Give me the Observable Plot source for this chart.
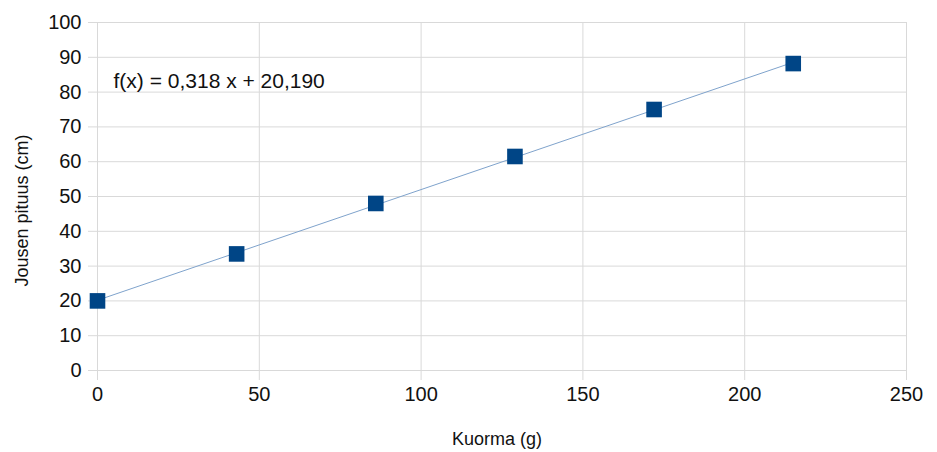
<!DOCTYPE html>
<html><head><meta charset="utf-8">
<script src="https://cdn.jsdelivr.net/npm/d3@7"></script>
<script src="https://cdn.jsdelivr.net/npm/@observablehq/plot@0.6"></script>
<style>body{margin:0;background:#fff;font-family:"Liberation Sans",Arial,sans-serif;}</style>
</head><body><div id="chart"></div>
<script>
const loads = [0, 43, 86, 129, 172, 215];
const lengths = [20, 33.5, 48, 61.5, 75, 88.2];
const slope = 0.318, intercept = 20.19;
const xTicks = [0, 50, 100, 150, 200, 250];
const yTicks = [0, 10, 20, 30, 40, 50, 60, 70, 80, 90, 100];
const eqLabel = "f(x) = 0,318 x + 20,190";
const xTitle = "Kuorma (g)";
const yTitle = "Jousen pituus (cm)";

const pts = loads.map((x, i) => ({x, y: lengths[i]}));
const trendX = [loads[0], loads[loads.length - 1]];
const trend = trendX.map(x => ({x, y: slope * x + intercept}));

const chart = Plot.plot({
  width: 937, height: 452,
  marginLeft: 97, marginRight: 31, marginTop: 22, marginBottom: 82,
  style: {fontFamily: '"Liberation Sans", Arial, sans-serif', background: "#fff"},
  x: {domain: [0, 250]},
  y: {domain: [0, 100]},
  marks: [
    Plot.gridX(xTicks, {stroke: "#d9d9d9", strokeOpacity: 1}),
    Plot.gridY(yTicks, {stroke: "#d9d9d9", strokeOpacity: 1}),
    Plot.axisX(xTicks, {tickSize: 10, stroke: "#d9d9d9", fill: "#111", fontSize: 20, tickPadding: 6, label: null, tickFormat: d => d}),
    Plot.axisY(yTicks, {tickSize: 9, stroke: "#d9d9d9", fill: "#111", fontSize: 20, tickPadding: 7, label: null, tickFormat: d => d}),
    Plot.line(trend, {x: "x", y: "y", stroke: "#7fa3cc", strokeWidth: 1}),
    Plot.dot(pts, {x: "x", y: "y", symbol: "square", r: 8.8, fill: "#004586", stroke: "none"}),
    Plot.text([eqLabel], {frameAnchor: "top-left", dx: 16, dy: 59, lineAnchor: "middle", text: d => d, textAnchor: "start", fontSize: 21, fill: "#111"}),
    Plot.text([xTitle], {frameAnchor: "bottom", dx: -5, dy: 69, lineAnchor: "middle", text: d => d, fontSize: 18, fill: "#111"}),
    Plot.text([yTitle], {frameAnchor: "left", dx: -75, dy: 14, rotate: -90, textAnchor: "middle", lineAnchor: "middle", text: d => d, fontSize: 18, fill: "#111"})
  ]
});
document.getElementById("chart").appendChild(chart);
</script></body></html>
